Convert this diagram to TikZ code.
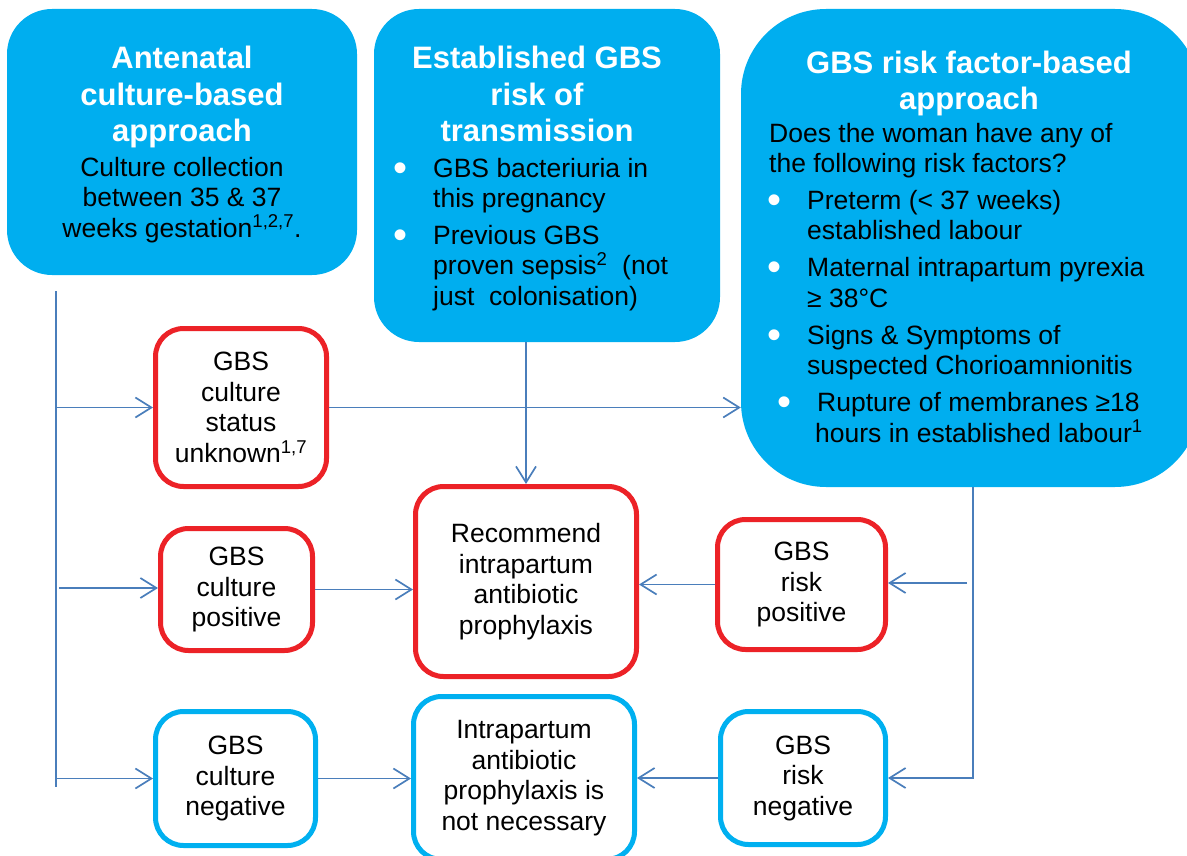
\documentclass[tikz,border=0pt]{standalone}
\usepackage{fontspec}
\setmainfont{Liberation Sans}
\usetikzlibrary{arrows.meta}
\definecolor{gbsblue}{RGB}{0,174,239}
\definecolor{gbsred}{RGB}{236,34,39}
\definecolor{gbscyan}{RGB}{0,176,240}
\definecolor{flowline}{RGB}{74,126,187}
\newcommand{\bodyfont}{\fontsize{26.5}{30.5}\selectfont}
\newcommand{\headfont}{\fontsize{31}{36.5}\selectfont\bfseries}
\newcommand{\bul}{\llap{\textcolor{white}{\raisebox{-4pt}{\fontsize{40}{40}\selectfont\textbullet}}\hspace{26pt}}}
\tikzstyle{panel}=[rectangle, fill=gbsblue, inner sep=0pt]
\tikzstyle{outcome}=[rectangle, rounded corners=28pt, draw, line width=5pt, fill=white, align=center, inner sep=0pt, font=\bodyfont]
\tikzstyle{redbox}=[outcome, draw=gbsred]
\tikzstyle{cyanbox}=[outcome, draw=gbscyan]
\tikzstyle{headtxt}=[white, align=center, font=\headfont, inner sep=0pt]
\tikzstyle{bodytxt}=[black, font=\bodyfont, inner sep=0pt]
\tikzstyle{flow}=[draw=flowline, line width=1.7pt]
\tikzset{>={Straight Barb[length=16pt,width=20pt]}}

\begin{document}
\begin{tikzpicture}[x=1pt, y=-1pt]
\useasboundingbox (0,0) rectangle (1187,856);
\clip (0,0) rectangle (1187,856);

% the three approaches along the top (text anchored on its last line)
\node[panel, rounded corners=45pt, minimum width=350pt, minimum height=266pt] (antenatal) at (182,142) {};
\node[panel, rounded corners=45pt, minimum width=346pt, minimum height=333pt] (established) at (547,175.5) {};
\node[panel, rounded corners=85pt, minimum width=459pt, minimum height=478pt] (riskbased) at (970.5,248) {};

\node[headtxt, anchor=base] (antenatalhead) at (182,142) {Antenatal\\culture-based\\approach};
\node[bodytxt, align=center, anchor=base] (antenatalbody) at (182,237) {Culture collection\\between 35 \& 37\\weeks gestation\textsuperscript{1,2,7}.};

\node[headtxt, anchor=base] (establishedhead) at (537,142) {Established GBS\\risk of\\transmission};
\node[bodytxt, align=left, anchor=base west] (establishedbody) at (433,305) {\bul GBS bacteriuria in\\this pregnancy\\[6pt]\bul Previous GBS\\proven sepsis\textsuperscript{2}\ \ (not\\just\ \ colonisation)};

\node[headtxt, anchor=base] (riskhead) at (969,110) {GBS risk factor-based\\approach};
\node[bodytxt, align=left, anchor=base west] (riskquestion) at (769,173) {Does the woman have any of\\the following risk factors?};
\node[bodytxt, align=left, anchor=base west] (riskfactors) at (807,442) {\bul Preterm (< 37 weeks)\\established labour\\[6.5pt]\bul Maternal intrapartum pyrexia\\≥ 38°C\\[6.5pt]\bul Signs \& Symptoms of\\suspected Chorioamnionitis\\[6.5pt]\hspace*{10pt}\bul Rupture of membranes ≥18\\\hspace*{8pt}hours in established labour\textsuperscript{1}};

% outcomes
\node[redbox, minimum width=171pt, minimum height=158pt] (unknown) at (241,407.5) {GBS\\culture\\status\\unknown\textsuperscript{1,7}};
\node[redbox, minimum width=152pt, minimum height=122pt] (culturepos) at (236.5,589.5) {GBS\\culture\\positive};
\node[cyanbox, minimum width=160pt, minimum height=134pt] (cultureneg) at (235.5,778.5) {GBS\\culture\\negative};
\node[redbox, minimum width=221pt, minimum height=190pt] (recommend) at (526,581.5) {Recommend\\intrapartum\\antibiotic\\prophylaxis};
\node[cyanbox, minimum width=221pt, minimum height=163pt] (notneeded) at (524,778) {Intrapartum\\antibiotic\\prophylaxis is\\not necessary};
\node[redbox, minimum width=168pt, minimum height=130pt] (riskpos) at (801.5,584.5) {GBS\\risk\\positive};
\node[cyanbox, minimum width=165pt, minimum height=133pt] (riskneg) at (803,778) {GBS\\risk\\negative};

% left trunk
\coordinate (lefttop) at (56,291);
\coordinate (leftend) at (56,787);
\coordinate (posstub) at (59,588);
\draw[flow] (lefttop) -- (leftend);
\draw[flow, ->] (lefttop |- unknown) -- (unknown);
\draw[flow, ->] (posstub) -- (posstub -| culturepos.west);
\draw[flow, ->] (lefttop |- cultureneg) -- (cultureneg);

\draw[flow, ->] (unknown) -- (unknown -| riskbased.west);
\draw[flow, ->] (established.south -| recommend) -- (recommend);
\draw[flow, ->] (culturepos) -- (culturepos -| recommend.west);
\draw[flow, ->] (cultureneg) -- (cultureneg -| notneeded.west);
\draw[flow, ->] (riskpos) -- (riskpos -| recommend.east);
\draw[flow, ->] (riskneg) -- (riskneg -| notneeded.east);

% right trunk
\coordinate (righttop) at (973,487);
\coordinate (riskstub) at (967,583);
\draw[flow, ->] (righttop) |- (riskneg);
\draw[flow, ->] (riskstub) -- (riskstub -| riskpos.east);

\end{tikzpicture}
\end{document}
